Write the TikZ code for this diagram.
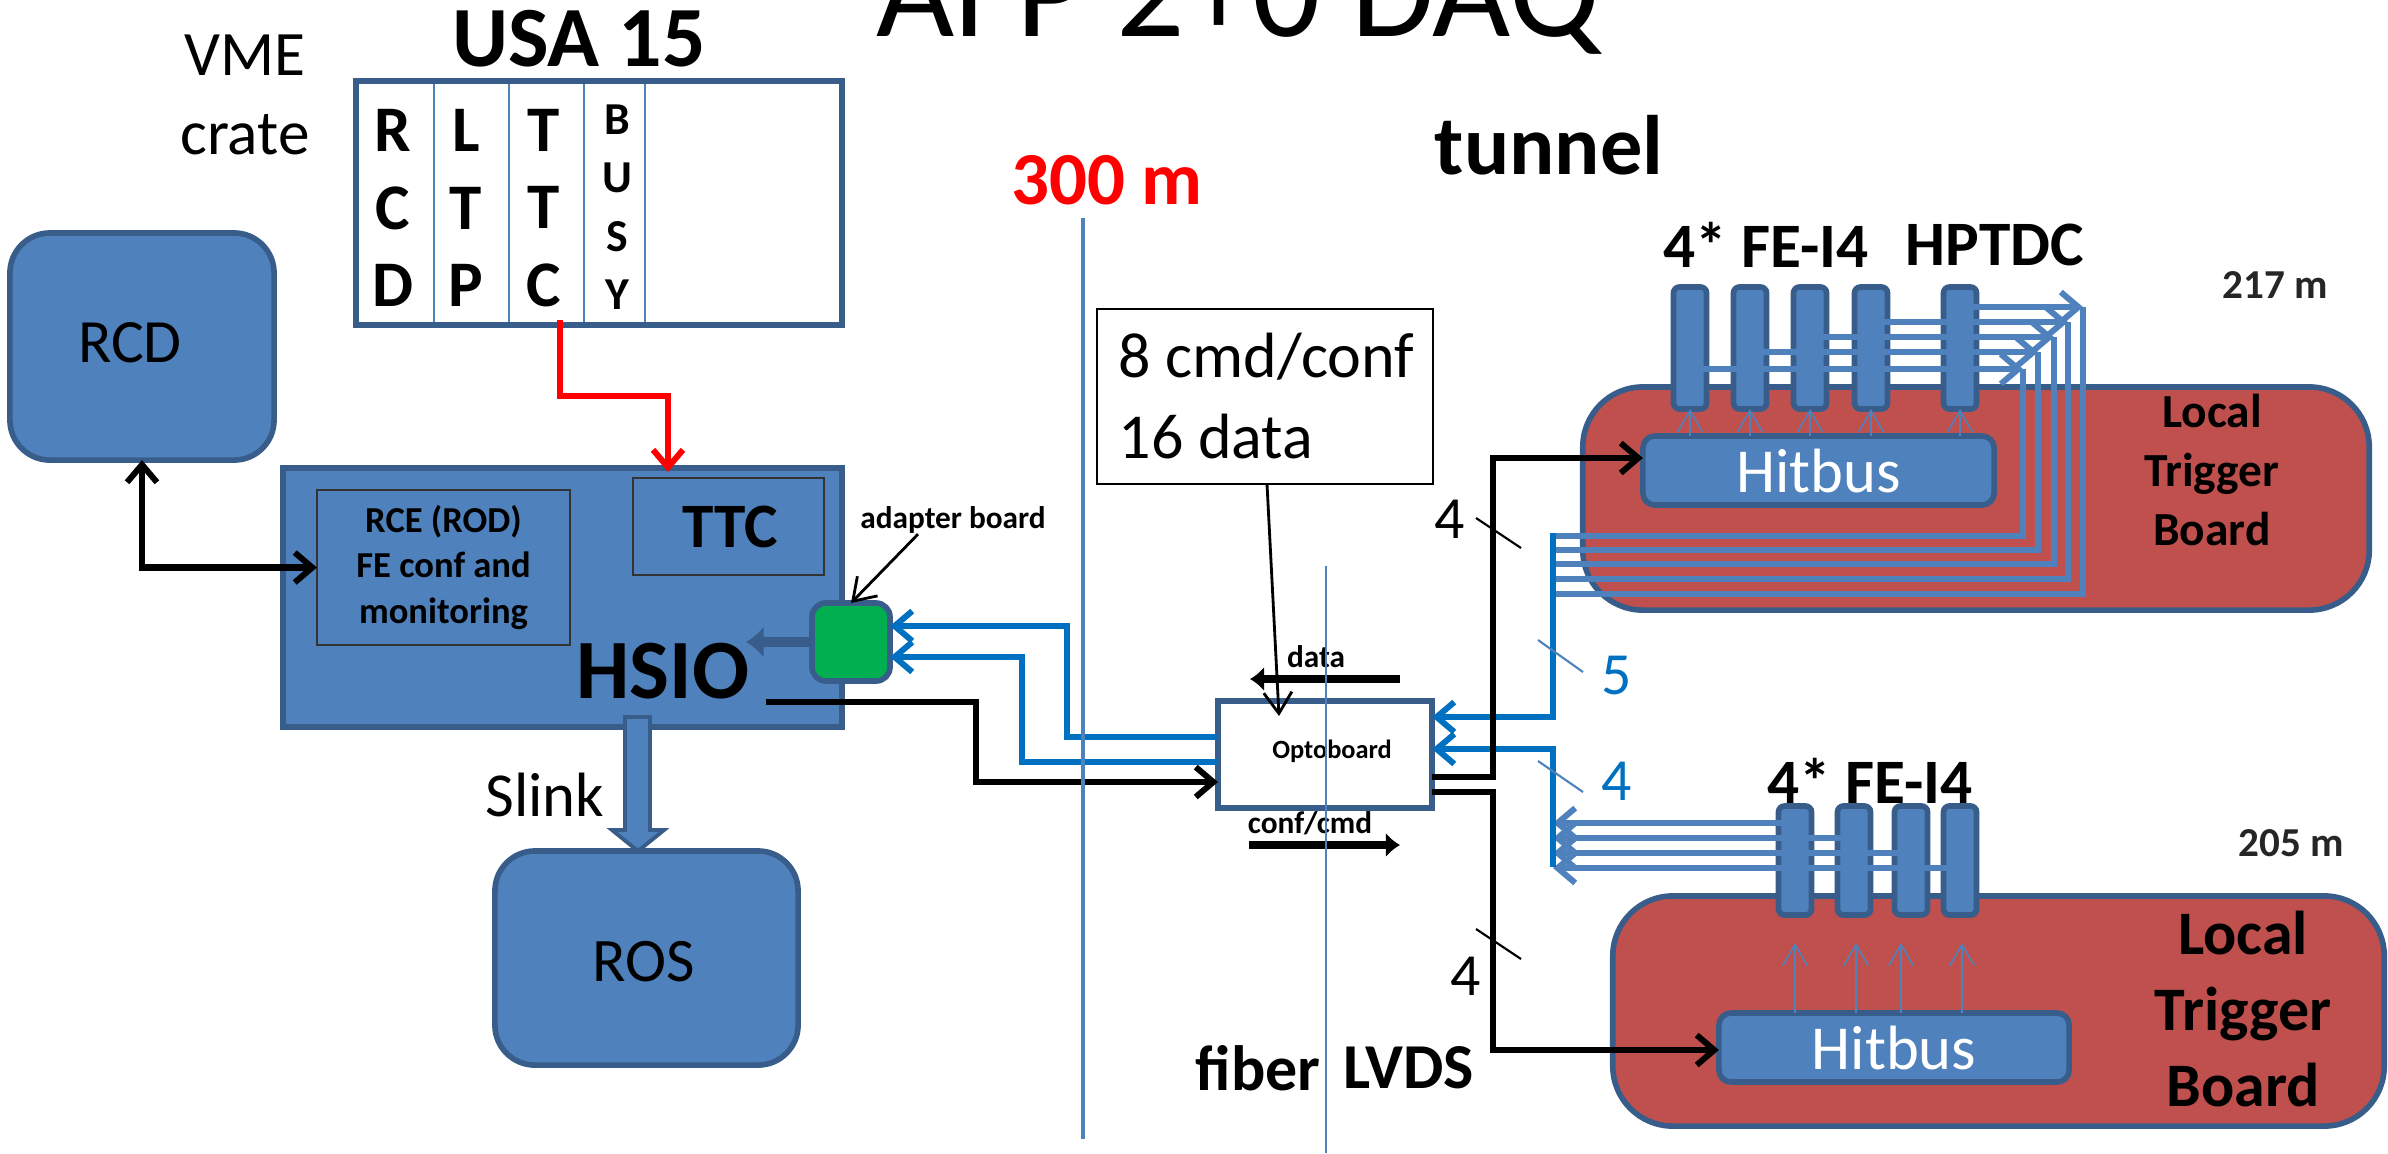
\documentclass[tikz,border=0pt]{standalone}
\usepackage{fontspec}
\setmainfont{Carlito}
\usetikzlibrary{arrows.meta,calc,positioning}
\definecolor{boxblue}{HTML}{4F81BD}
\definecolor{edgeblue}{HTML}{385D8A}
\definecolor{linkblue}{HTML}{0070C0}
\definecolor{boardred}{HTML}{C0504D}
\definecolor{adaptgreen}{HTML}{00B050}
\newcommand{\fsz}[2]{\fontsize{#1}{#2}\selectfont}
\tikzset{
  blockbox/.style={draw=edgeblue,line width=1.6pt,fill=boxblue,inner sep=0pt,outer sep=0pt},
  bigbox/.style={blockbox,rounded corners=0.4cm},
  boardbox/.style={blockbox,fill=boardred,rounded corners=0.6cm},
  hitbox/.style={blockbox,rounded corners=0.12cm,text=white,minimum height=0.69cm,font=\fsz{17.8}{20}},
  chipbox/.style={blockbox,rounded corners=0.06cm,minimum width=0.33cm},
  txt/.style={inner sep=0pt,align=center},
  barb/.style={-{Straight Barb[length=5pt,width=8.5pt,line width=1.7pt]}},
  thinbarb/.style={-{Straight Barb[length=6pt,width=8pt,line width=0.8pt]}},
  blackline/.style={black,line width=1.8pt,line join=miter},
  fibreline/.style={linkblue,line width=1.6pt},
  chipline/.style={boxblue,line width=1.6pt},
  thinup/.style={boxblue,line width=0.45pt,-{Straight Barb[length=6pt,width=7pt,line width=0.45pt]}},
  tick/.style={line width=0.6pt}
}
\begin{document}
\begin{tikzpicture}[x=0.01cm,y=-0.01cm]
\useasboundingbox (0,0) rectangle (2388,1153);
% title and headings
\node[anchor=base,txt,font=\fsz{38.4}{44}] (title) at (1238,36) {AFP 2+0 DAQ};
\node[txt,font=\fsz{24.4}{26}\bfseries] (usa) at (579,39) {USA 15};
\node[txt,font=\fsz{18}{22.5}] (vme) at (245,95) {VME\\crate};
\node[txt,font=\fsz{24}{26}\bfseries] (tunnel) at (1549,145) {tunnel};
\node[txt,red,font=\fsz{21.3}{24}\bfseries] (dist) at (1107,180) {300 m};
% VME crate
\node[blockbox,fill=white,minimum width=4.86cm,minimum height=2.44cm] (crate) at (599,203) {};
\foreach \x in {434,509,584,645}{\draw[boxblue,line width=0.5pt] (\x,84)--(\x,322);}
\foreach \x/\t/\n in {393/{R\\C\\D}/rcdslot,466/{L\\T\\P}/ltpslot,544/{T\\T\\C}/ttcslot}{\node[txt,font=\fsz{18.5}{22}\bfseries] (\n) at (\x,208) {\t};}
\node[txt,font=\fsz{13}{16.6}\bfseries] (busyslot) at (617,207) {B\\U\\S\\Y};
% counting room boxes
\node[bigbox,minimum width=2.64cm,minimum height=2.27cm] (rcd) at (142,346.5) {};
\node[txt,font=\fsz{17.5}{20}] (rcdtxt) at (130,343) {RCD};
\node[blockbox,minimum width=5.59cm,minimum height=2.59cm] (hsio) at (562.5,597.5) {};
\node[draw=black!80,line width=0.5pt,inner sep=0pt,outer sep=0pt,minimum width=2.53cm,minimum height=1.55cm,txt,font=\fsz{10.4}{12.9}\bfseries] (rce) at (443.5,567.5) {RCE (ROD)\\FE conf and\\monitoring};
\node[draw=black!80,line width=0.5pt,inner sep=0pt,outer sep=0pt,minimum width=1.91cm,minimum height=0.97cm] (ttc) at (728.5,526.5) {};
\node[txt,font=\fsz{18}{20}\bfseries] (ttctxt) at (730,527) {TTC};
\node[txt,font=\fsz{24}{26}\bfseries] (hsiotxt) at (663,671) {HSIO};
\node[blockbox,fill=adaptgreen,rounded corners=0.14cm,minimum width=0.78cm,minimum height=0.78cm] (adapter) at (851,642) {};
\node[txt,font=\fsz{8.9}{11}\bfseries] (adaptertxt) at (953,520) {adapter board};
\node[bigbox,minimum width=3.03cm,minimum height=2.14cm] (ros) at (646.5,958) {};
\node[txt,font=\fsz{17.6}{20}] (rostxt) at (644,962) {ROS};
\node[txt,font=\fsz{17.8}{20}] (slink) at (545,795) {Slink};
% red link, RCD link
\coordinate (ttcout) at (560,320);
\coordinate (ttcin) at (668,472);
\draw[red,line width=1.5pt,barb] (ttcout)--(560,396)--(668,396)--(ttcin);
\draw[blackline,{Straight Barb[length=5pt,width=8.5pt,line width=1.7pt]}-{Straight Barb[length=5pt,width=8.5pt,line width=1.7pt]}] (rcd.south)|-(rce.west);
\draw[black,line width=0.8pt,thinbarb] (adaptertxt.south -| 918,0)--(adapter.north);
% Slink block arrow
\draw[edgeblue,line width=1.1pt,fill=boxblue] (625,717)--(650,717)--(650,830)--(664,830)--(638,851)--(612,830)--(625,830)--cycle;
% stub inside HSIO
\draw[edgeblue,line width=2.6pt,-{Latex[length=5pt,width=9pt]}] (adapter.west)--++(-66,0);
% optoboard
\node[blockbox,fill=white,minimum width=2.14cm,minimum height=1.07cm] (opto) at (1325,754.5) {};
\node[txt,font=\fsz{7.5}{9}\bfseries] (optotxt) at (1332,751) {Optoboard};
\node[draw=black,line width=0.6pt,fill=white,inner sep=0pt,outer sep=0pt,minimum width=3.36cm,minimum height=1.75cm] (note) at (1265,396.5) {};
\node[anchor=west,txt,align=left,font=\fsz{18.2}{22.8}] (notetxt) at (1118,396) {8 cmd/conf\\16 data};
\coordinate (notein) at (1279,716);
\draw[black,line width=0.8pt,thinbarb] (note.south -| 1267,0)--(notein);
\node[txt,font=\fsz{8.9}{11}\bfseries] (datatxt) at (1316,657) {data};
\node[txt,font=\fsz{8.9}{11}\bfseries] (conftxt) at (1310,823) {conf/cmd};
\coordinate (dataR) at (1400,679);
\coordinate (dataL) at (1250,679);
\coordinate (confL) at (1249,845);
\coordinate (confR) at (1400,845);
\draw[black,line width=2.2pt,-{Latex[length=4pt,width=7pt]}] (dataR)--(dataL);
\draw[black,line width=2.2pt,-{Latex[length=4pt,width=7pt]}] (confL)--(confR);
% opto to adapter and HSIO to opto
\draw[fibreline,barb] (opto.west |- 0,737)--(1067,737)--(1067,626)--(adapter.east |- 0,626);
\draw[fibreline,barb] (opto.west |- 0,762)--(1022,762)--(1022,657)--(adapter.east |- 0,657);
\coordinate (hsioout) at (766,702);
\draw[blackline,barb] (hsioout)--(976,702)--(976,782)--(opto.west |- 0,782);
% cable lines
\draw[boxblue,line width=1.3pt] (1083,218)--(1083,1139);
\draw[boxblue,line width=0.5pt] (1326,566)--(1326,1153);
\node[txt,font=\fsz{18.2}{20}\bfseries] (fibertxt) at (1258,1068) {fiber};
\node[txt,font=\fsz{18.2}{20}\bfseries] (lvdstxt) at (1409,1068) {LVDS};
% station at 217 m
\node[boardbox,minimum width=7.86cm,minimum height=2.23cm] (boardA) at (1976,498.5) {};
\foreach \i/\x in {1/1690,2/1750,3/1810,4/1871,5/1960}{\node[chipbox,minimum height=1.22cm] (chipA\i) at (\x,348) {};}
\node[hitbox,minimum width=3.51cm] (hitA) at (1818.5,470.5) {Hitbus};
\foreach \i in {1,...,5}{\draw[thinup] (chipA\i.center |- hitA.north)--(chipA\i.south);}
\foreach \i/\x/\y/\b in {1/2023/369/536,2/2038/352/550,3/2054/337/564,4/2068/322/579,5/2083/307/594}{
  \draw[chipline,barb] (chipA\i.center |- 0,\y)--(\x,\y);
  \draw[chipline] (\x,\y)--(\x,\b)--(1553,\b);
}
\node[txt,font=\fsz{18}{20}\bfseries] (feA) at (1766,245) {4* FE-I4};
\node[txt,font=\fsz{18}{20}\bfseries] (tdcA) at (1995,245) {HPTDC};
\node[txt,text=black!85,font=\fsz{11.7}{14}\bfseries] (distA) at (2275,285) {217 m};
\node[txt,font=\fsz{13.5}{16.8}\bfseries] (lbA) at (2212,470) {Local\\Trigger\\Board};
% station at 205 m
\node[boardbox,minimum width=7.71cm,minimum height=2.3cm] (boardB) at (1998.5,1011) {};
\foreach \i/\x in {1/1795,2/1854,3/1911,4/1960}{\node[chipbox,minimum height=1.09cm] (chipB\i) at (\x,860.5) {};}
\node[hitbox,minimum width=3.5cm] (hitB) at (1894,1047.5) {Hitbus};
\foreach \x in {1795,1856,1901,1962}{\draw[thinup] (\x,1013)--(\x,943);}
\foreach \i/\y in {1/823,2/838,3/853,4/868}{\draw[chipline,barb] (chipB\i.center |- 0,\y)--(1553,\y);}
\node[txt,font=\fsz{18}{20}\bfseries] (feB) at (1870,781) {4* FE-I4};
\node[txt,text=black!85,font=\fsz{11.7}{14}\bfseries] (distB) at (2291,843) {205 m};
\node[txt,font=\fsz{17.6}{21.6}\bfseries] (lbB) at (2243,1009) {Local\\Trigger\\Board};
% optoboard to the stations
\draw[fibreline,barb] (1553,533)--(1553,717)--(opto.east |- 0,717);
\draw[fibreline,barb] (1553,867)--(1553,749)--(opto.east |- 0,749);
\draw[blackline,barb] (opto.east |- 0,777)--(1493,777)--(1493,458)--(hitA.west |- 0,458);
\draw[blackline,barb] (opto.east |- 0,792)--(1493,792)--(1493,1050)--(hitB.west |- 0,1050);
% bundle ticks
\draw[tick] (1476,518)--(1521,548);
\draw[tick] (1476,929)--(1521,959);
\draw[tick,boxblue] (1538,640)--(1583,672);
\draw[tick,boxblue] (1538,761)--(1583,792);
\foreach \x/\y/\c/\t/\n in {1450/519/black/4/countA,1466/976/black/4/countB,1617/675/linkblue/5/countC,1617/781/linkblue/4/countD}{\node[txt,text=\c,font=\fsz{17}{20}] (\n) at (\x,\y) {\t};}
\end{tikzpicture}
\end{document}
